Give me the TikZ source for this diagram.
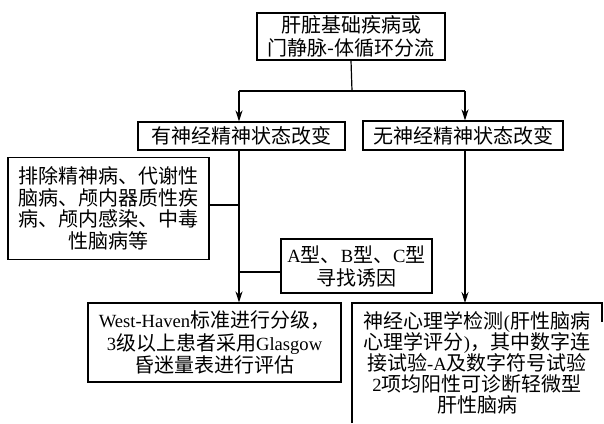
\documentclass[tikz,border=0pt]{standalone}
\usepackage{fontspec}
\setmainfont{Noto Sans CJK SC}
\newfontfamily\lat[Scale=0.93]{Liberation Serif}
\usetikzlibrary{arrows.meta,calc}
\begin{document}
\begin{tikzpicture}[x=1pt,y=-1pt,
  box/.style={draw, line width=1.1pt, inner sep=0pt, align=center},
  txt/.style={inner sep=0pt, align=center},
  fs/.style={font=\fontsize{20}{#1}\selectfont},
  link/.style={line width=1.2pt},
  arr/.style={line width=1.2pt, -{Stealth[length=11pt,width=7pt]}}]
\useasboundingbox (0,0) rectangle (604,423);

\node[box, fs=23, minimum width=188pt, minimum height=47pt] (top) at (351,36.5)
  {肝脏基础疾病或\\门静脉-体循环分流};
\node[box, fs=23, minimum width=207pt, minimum height=28pt] (left) at (241.5,136)
  {有神经精神状态改变};
\node[box, fs=23, minimum width=200pt, minimum height=29pt] (right) at (463,135.5)
  {无神经精神状态改变};
\node[box, fs=21.7, minimum width=201pt, minimum height=102pt] (excl) at (108.5,208.5)
  {排除精神病、代谢性\\脑病、颅内器质性疾\\病、颅内感染、中毒\\性脑病等};
\node[box, fs=23, minimum width=151pt, minimum height=54pt] (abc) at (356.5,266)
  {{\lat A}型、{\lat B}型、{\lat C}型\\寻找诱因};
\node[box, fs=22.5, minimum width=253pt, minimum height=79pt] (west) at (214.5,342.5)
  {{\lat West-Haven}标准进行分级，\\{\lat 3}级以上患者采用{\lat Glasgow}\\昏迷量表进行评估};

% open frame of the right bottom box
\coordinate (nTL) at (352,303);
\coordinate (nTR) at (602,303);
\coordinate (nBL) at (352,423);
\coordinate (nRE) at (602,322);
\draw[link] (nBL) -- (nTL) -- (nTR) -- (nRE);
\node[txt, fs=21] (neuro) at (477,362.5)
  {神经心理学检测{\lat (}肝性脑病\\心理学评分{\lat )}，其中数字连\\接试验{\lat -A}及数字符号试验\\{\lat 2}项均阳性可诊断轻微型\\肝性脑病};

% connectors
\coordinate (j) at (352,91);
\coordinate (bl) at (239,91);
\coordinate (br) at (465,91);
\draw[link] (top.south) -- (j);
\draw[link] (bl) -- (br);
\draw[arr] (bl) -- (bl |- left.north);
\draw[arr] (br) -- (br |- right.north);
\draw[arr] (bl |- left.south) -- (bl |- west.north);
\draw[arr] (br |- right.south) -- (br |- nTL);
\coordinate (ex) at (209,205);
\draw[link] (ex) -- (ex -| bl);
\coordinate (ab) at (281,272);
\draw[link] (ab) -- (ab -| bl);
\end{tikzpicture}
\end{document}
